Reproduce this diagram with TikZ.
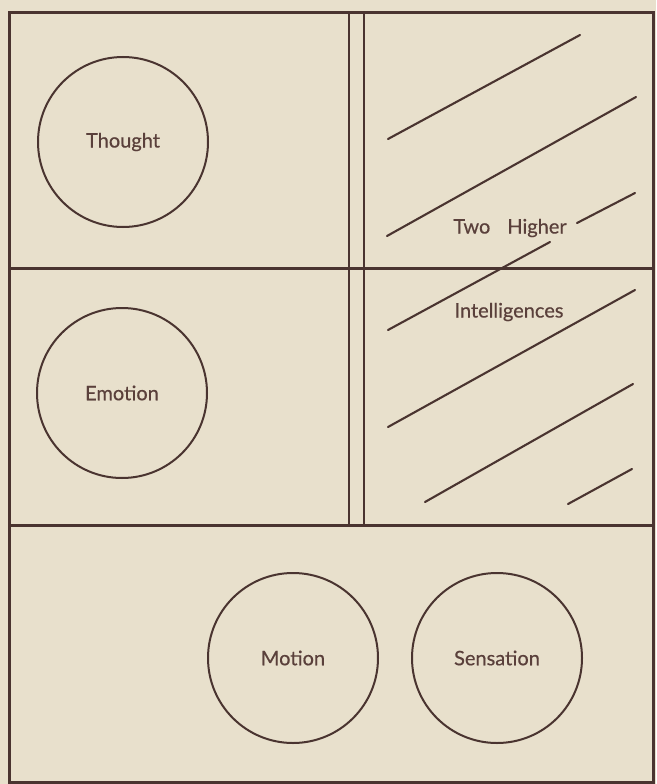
\documentclass[tikz,border=0pt]{standalone}
\usepackage{fontspec}
\setmainfont{Lato}
\newfontfamily\lblfont{Lato}[FakeBold=0.5]
\definecolor{bg}{HTML}{E8E0CC}
\definecolor{ink}{HTML}{4A3430}
\definecolor{txt}{HTML}{5A403B}
\begin{document}
\begin{tikzpicture}[x=1pt,y=-1pt,
  frame/.style={draw=ink,line width=3pt},
  thin/.style={draw=ink,line width=2.1pt,line cap=round},
  ring/.style={circle,draw=ink,line width=2pt,minimum size=170pt,inner sep=0pt,
               text=txt,font=\lblfont\fontsize{20}{24}\selectfont},
  lbl/.style={text=txt,font=\lblfont\fontsize{20}{24}\selectfont,inner sep=0pt}]
\fill[bg] (0,0) rectangle (656,784);
\useasboundingbox (0,0) rectangle (656,784);
% frame
\coordinate (TL) at (9,13);
\coordinate (BR) at (653,782);
\draw[frame] (TL) rectangle (BR);
\coordinate (h1l) at (9,268); \coordinate (h1r) at (653,268);
\coordinate (h2l) at (9,525); \coordinate (h2r) at (653,525);
\draw[frame] (h1l) -- (h1r);
\draw[frame] (h2l) -- (h2r);
\coordinate (v1t) at (349,13); \coordinate (v1b) at (349,525);
\coordinate (v2t) at (364,13); \coordinate (v2b) at (364,525);
\draw[frame,line width=2.5pt] (v1t) -- (v1b);
\draw[frame,line width=2.5pt] (v2t) -- (v2b);
% circles
\node[ring] (thought) at (123,142) {Thought};
\node[ring] (emotion) at (122,393) {Emotion};
\node[ring] (motion) at (293,658) {Motion};
\node[ring] (sensation) at (497,658) {Sensation};
% hatch lines
\coordinate (a1) at (388,139); \coordinate (a2) at (580,35);
\coordinate (b1) at (387,236); \coordinate (b2) at (636,97);
\coordinate (c1) at (577,223); \coordinate (c2) at (635,193);
\coordinate (d1) at (388,330); \coordinate (d2) at (550,242);
\coordinate (e1) at (388,427); \coordinate (e2) at (635,290);
\coordinate (f1) at (425,502); \coordinate (f2) at (633,384);
\coordinate (g1) at (568,504); \coordinate (g2) at (632,469);
\draw[thin] (a1) -- (a2);
\draw[thin] (b1) -- (b2);
\draw[thin] (c1) -- (c2);
\draw[thin] (d1) -- (d2);
\draw[thin] (e1) -- (e2);
\draw[thin] (f1) -- (f2);
\draw[thin] (g1) -- (g2);
% labels
\node[lbl] (two) at (510,228) {Two\hspace{0.85em}Higher};
\node[lbl] (intel) at (509,312) {Intelligences};
\end{tikzpicture}
\end{document}
